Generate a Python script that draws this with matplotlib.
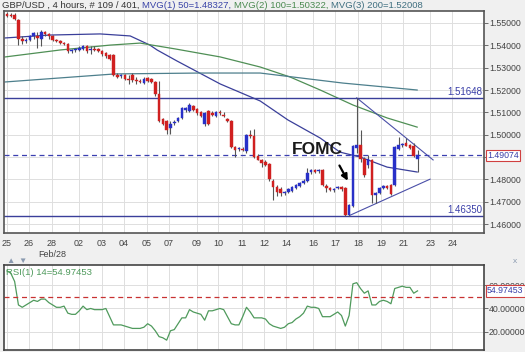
import matplotlib
matplotlib.use("Agg")
import matplotlib.pyplot as plt
import matplotlib.transforms as mtransforms

# 4 hour candles GBP/USD
opens = [1.5540, 1.5535, 1.5535, 1.5515, 1.5430, 1.5420, 1.5425, 1.5440, 1.5440, 1.5430,
         1.5460, 1.5450, 1.5440, 1.5425, 1.5420, 1.5410, 1.5405, 1.5375, 1.5378, 1.5380,
         1.5385, 1.5395, 1.5380, 1.5385, 1.5385, 1.5375, 1.5365, 1.5355, 1.5357, 1.5267,
         1.5262, 1.5265, 1.5250, 1.5265, 1.5245, 1.5240, 1.5230, 1.5252, 1.5250, 1.5236,
         1.5180, 1.5070, 1.5060, 1.5030, 1.5052, 1.5060, 1.5075, 1.5110, 1.5108, 1.5130,
         1.5115, 1.5100, 1.5050, 1.5105, 1.5095, 1.5085, 1.5100, 1.5090, 1.5070, 1.5060,
         1.4945, 1.4935, 1.4935, 1.4925, 1.5000, 1.4995, 1.4905, 1.4885, 1.4880, 1.4868,
         1.4795, 1.4765, 1.4755, 1.4740, 1.4745, 1.4750, 1.4760, 1.4770, 1.4785, 1.4795,
         1.4835, 1.4840, 1.4838, 1.4840, 1.4770, 1.4760, 1.4752, 1.4760, 1.4768, 1.4760,
         1.4640, 1.4680, 1.4940, 1.4955, 1.4890, 1.4865, 1.4885, 1.4730, 1.4740, 1.4762,
         1.4770, 1.4775, 1.4775, 1.4935, 1.4955, 1.4962, 1.4955, 1.4950, 1.4890]
highs = [1.5550, 1.5545, 1.5545, 1.5520, 1.5440, 1.5435, 1.5445, 1.5460, 1.5460, 1.5470,
         1.5465, 1.5455, 1.5445, 1.5430, 1.5425, 1.5415, 1.5410, 1.5385, 1.5390, 1.5395,
         1.5400, 1.5400, 1.5395, 1.5395, 1.5390, 1.5380, 1.5370, 1.5360, 1.5360, 1.5275,
         1.5270, 1.5270, 1.5265, 1.5275, 1.5260, 1.5250, 1.5260, 1.5258, 1.5255, 1.5240,
         1.5240, 1.5075, 1.5065, 1.5060, 1.5065, 1.5080, 1.5125, 1.5125, 1.5140, 1.5135,
         1.5120, 1.5105, 1.5100, 1.5110, 1.5105, 1.5105, 1.5110, 1.5100, 1.5075, 1.5065,
         1.4950, 1.4945, 1.4945, 1.5005, 1.5021, 1.5025, 1.4912, 1.4890, 1.4885, 1.4875,
         1.4800, 1.4775, 1.4765, 1.4750, 1.4760, 1.4770, 1.4780, 1.4790, 1.4800, 1.4850,
         1.4845, 1.4845, 1.4848, 1.4845, 1.4780, 1.4765, 1.4760, 1.4770, 1.4772, 1.4765,
         1.4690, 1.4955, 1.5165, 1.5020, 1.4900, 1.4910, 1.4890, 1.4745, 1.4765, 1.4775,
         1.4775, 1.4780, 1.4950, 1.4990, 1.4965, 1.4985, 1.4960, 1.4965, 1.4930]
lows = [1.5525, 1.5525, 1.5515, 1.5400, 1.5405, 1.5410, 1.5420, 1.5430, 1.5390, 1.5395,
        1.5440, 1.5430, 1.5420, 1.5415, 1.5405, 1.5400, 1.5365, 1.5365, 1.5370, 1.5375,
        1.5380, 1.5365, 1.5360, 1.5375, 1.5370, 1.5350, 1.5345, 1.5335, 1.5262, 1.5255,
        1.5255, 1.5245, 1.5225, 1.5235, 1.5225, 1.5230, 1.5225, 1.5238, 1.5232, 1.5175,
        1.5058, 1.5045, 1.5005, 1.5005, 1.5045, 1.5055, 1.5070, 1.5100, 1.5100, 1.5105,
        1.5090, 1.5080, 1.5040, 1.5045, 1.5085, 1.5080, 1.5090, 1.5080, 1.5055, 1.4940,
        1.4900, 1.4925, 1.4928, 1.4920, 1.4985, 1.4895, 1.4885, 1.4855, 1.4860, 1.4795,
        1.4710, 1.4725, 1.4725, 1.4730, 1.4740, 1.4745, 1.4755, 1.4765, 1.4780, 1.4790,
        1.4825, 1.4830, 1.4830, 1.4770, 1.4745, 1.4748, 1.4745, 1.4755, 1.4750, 1.4635,
        1.4635, 1.4675, 1.4920, 1.4880, 1.4810, 1.4850, 1.4695, 1.4695, 1.4735, 1.4755,
        1.4755, 1.4730, 1.4770, 1.4930, 1.4945, 1.4950, 1.4935, 1.4900, 1.4833]
closes = [1.5530, 1.5530, 1.5520, 1.5430, 1.5420, 1.5425, 1.5440, 1.5455, 1.5435, 1.5460,
          1.5450, 1.5440, 1.5425, 1.5420, 1.5410, 1.5405, 1.5375, 1.5380, 1.5383, 1.5390,
          1.5395, 1.5375, 1.5385, 1.5380, 1.5375, 1.5360, 1.5350, 1.5340, 1.5267, 1.5260,
          1.5265, 1.5250, 1.5245, 1.5245, 1.5240, 1.5235, 1.5250, 1.5242, 1.5238, 1.5180,
          1.5062, 1.5050, 1.5022, 1.5050, 1.5058, 1.5075, 1.5120, 1.5118, 1.5135, 1.5112,
          1.5095, 1.5085, 1.5095, 1.5050, 1.5090, 1.5100, 1.5095, 1.5085, 1.5060, 1.4945,
          1.4930, 1.4940, 1.4932, 1.5000, 1.4995, 1.4900, 1.4888, 1.4875, 1.4865, 1.4800,
          1.4765, 1.4745, 1.4740, 1.4745, 1.4755, 1.4765, 1.4775, 1.4785, 1.4795, 1.4830,
          1.4840, 1.4835, 1.4840, 1.4775, 1.4760, 1.4752, 1.4755, 1.4765, 1.4755, 1.4640,
          1.4685, 1.4950, 1.4955, 1.4890, 1.4820, 1.4890, 1.4730, 1.4740, 1.4760, 1.4770,
          1.4760, 1.4735, 1.4945, 1.4955, 1.4960, 1.4950, 1.4940, 1.4905, 1.4907]

# RSI(14) per candle
rsi = [72, 70, 63, 43, 41, 43, 45, 47, 46, 48, 48, 45, 43, 41, 41, 42, 36, 35, 35, 38,
       42, 39, 40, 39, 39, 39, 40, 33, 26, 26, 26, 25, 24, 23, 23, 23, 24, 27, 25, 21,
       16, 15, 13, 21, 22, 27, 32, 32, 39, 37, 36, 35, 30, 38, 38, 39, 40, 39, 33, 27,
       26, 26, 33, 41, 37, 32, 32, 32, 31, 27, 25, 24, 23, 24, 27, 28, 31, 33, 36, 42,
       41, 41, 40, 33, 33, 33, 35, 37, 34, 25, 34, 61, 62, 57, 53, 55, 43, 43, 46, 47,
       46, 44, 57, 58, 59, 58, 58, 53, 55]

# moving averages (candle index, price)
ma50_x = [-0.5, 11.3, 24.5, 32.4, 37.6, 39.5, 44.7, 56.1, 66.6, 73.9, 82.4, 87.6, 92.9, 100, 107.9]
ma50_y = [1.5433, 1.5446, 1.5451, 1.5442, 1.5401, 1.5379, 1.5330, 1.5227, 1.5151, 1.5066,
          1.4985, 1.4922, 1.4900, 1.4855, 1.4833]
ma100_x = [-0.5, 13.9, 27.1, 35, 44.2, 56.1, 66.6, 74.5, 82.4, 91, 100, 107.9]
ma100_y = [1.5348, 1.5379, 1.5401, 1.5410, 1.5384, 1.5348, 1.5303, 1.5258, 1.5200, 1.5133,
           1.5075, 1.5034]
ma200_x = [-0.5, 13.9, 28.4, 50.8, 66.6, 75.3, 88.4, 107.9]
ma200_y = [1.5236, 1.5254, 1.5272, 1.5276, 1.5276, 1.5258, 1.5231, 1.5200]

# trend lines (triangle)
upper_x = [92, 112.1]
upper_y = [1.5165, 1.4887]
lower_x = [90.3, 111.3]
lower_y = [1.4640, 1.4801]

hi_level = 1.51648
lo_level = 1.46350
last_price = 1.49074
last_rsi = 54.97453

# day separators
day_pos = [0, 5.8, 11.8, 18.9, 25, 30.8, 36.8, 42.6, 50, 55.5, 61.8, 67.6, 73.4, 80.5,
           86.3, 92.4, 98.4, 104.2, 111.3, 117.1]
day_labels = ["25", "26", "28", "02", "03", "04", "05", "07", "09", "10", "11", "12",
              "14", "16", "17", "18", "19", "21", "23", "24"]
price_ticks = [1.46, 1.47, 1.48, 1.49, 1.50, 1.51, 1.52, 1.53, 1.54, 1.55]

plt.rcParams['font.family'] = ['Liberation Sans', 'DejaVu Sans']

fig = plt.figure(figsize=(5.25, 3.52), dpi=100, facecolor="#f0f0f0")
ax = fig.add_axes([0.0076, 0.338, 0.9144, 0.631])
ax2 = fig.add_axes([0.0076, 0.006, 0.9144, 0.241])

blue = "#2830c8"
red = "#d02020"
grid_c = "#dedede"
lab_c = "#444444"
xmin, xmax = -0.8, 125.5

# candles
for i in range(len(closes)):
    o, h, l, c = opens[i], highs[i], lows[i], closes[i]
    col = blue if c >= o else red
    ax.vlines(i, l, h, color="#555555", lw=0.8, zorder=3)
    ax.bar(i, max(abs(c - o), 0.0002), bottom=min(o, c), width=0.7,
           color=col, edgecolor=col, lw=0.3, zorder=4)

ax.plot(ma50_x, ma50_y, color="#3a3f9a", lw=0.9, zorder=2)
ax.plot(ma100_x, ma100_y, color="#4f8f55", lw=0.9, zorder=2)
ax.plot(ma200_x, ma200_y, color="#4d7f8c", lw=0.9, zorder=2)
ax.plot(upper_x, upper_y, color="#4a4fa8", lw=0.8, zorder=2)
ax.plot(lower_x, lower_y, color="#4a4fa8", lw=0.8, zorder=2)

ax.axhline(hi_level, color="#3a3f9a", lw=1.0, zorder=2)
ax.axhline(lo_level, color="#3a3f9a", lw=1.0, zorder=2)
ax.axhline(last_price, color="#3a3fb0", lw=0.9, ls=(0, (4, 3)), zorder=2)

tr = mtransforms.blended_transform_factory(ax.transAxes, ax.transData)
ax.text(0.997, hi_level + 0.0004, "%.5f" % hi_level, transform=tr, ha="right", va="bottom",
        color="#3a3fa8", fontsize=7)
ax.text(0.997, lo_level + 0.0004, "%.5f" % lo_level, transform=tr, ha="right", va="bottom",
        color="#3a3fa8", fontsize=7)
ax.text(1.006, last_price, "%.5f" % last_price, transform=tr, ha="left", va="center",
        color="#3a3fa8", fontsize=6.3, clip_on=False, zorder=10,
        bbox=dict(boxstyle="square,pad=0.15", fc="white", ec="#d04040", lw=0.8))

ax.text(75.0, 1.4915, "FOMC", fontsize=12.5, fontweight="bold", color="#1a1a1a", zorder=6)
ax.annotate("", xy=(90.0, 1.4783), xytext=(87.1, 1.4873),
            arrowprops=dict(arrowstyle="-|>", color="black", lw=1.6, mutation_scale=9), zorder=6)

ax.set_xlim(xmin, xmax)
ax.set_ylim(1.4560, 1.5554)
ax.set_yticks(price_ticks)
ax.set_yticklabels(["" if v == 1.49 else "%.5f" % v for v in price_ticks])
ax.set_xticks(day_pos)
ax.set_xticklabels(day_labels)
ax.yaxis.tick_right()
ax.tick_params(axis="y", direction="out", length=3, width=0.6, color="#555555",
               labelsize=6.3, labelcolor=lab_c, pad=0.5)
ax.tick_params(axis="x", length=0, labelsize=6.5, labelcolor=lab_c, pad=4)
ax.grid(True, color=grid_c, lw=0.7, zorder=0)
for s in ax.spines.values():
    s.set_color("#555555")
    s.set_linewidth(1.2)
ax.text(day_pos[2], -0.075, "Feb/28",
        transform=mtransforms.blended_transform_factory(ax.transData, ax.transAxes),
        ha="center", va="top", fontsize=6.5, color=lab_c)

# title line built from coloured pieces
pieces = [("GBP/USD , 4 hours, # 109 / 401, ", "#333333"), ("MVG(1) 50=1.48327, ", "#3a44a8"),
          ("MVG(2) 100=1.50322, ", "#4a8a50"), ("MVG(3) 200=1.52008", "#3f6f80")]
r = fig.canvas.get_renderer()
x0 = 0.004
for txt, col in pieces:
    tt = fig.text(x0, 0.985, txt, fontsize=6.8, color=col, va="center", ha="left")
    x0 = fig.transFigure.inverted().transform((tt.get_window_extent(r).x1, 0))[0]

# RSI panel
ax2.plot(range(len(rsi)), rsi, color="#4f9a5c", lw=0.9)
ax2.axhline(50, color="#c83232", lw=0.9, ls=(0, (4, 3)))
ax2.set_xlim(xmin, xmax)
ax2.set_ylim(4.7, 77)
ax2.set_yticks([20, 40, 60])
ax2.set_yticklabels(["20.00000", "40.00000", "60.00000"])
ax2.set_xticks(day_pos)
ax2.set_xticklabels([])
ax2.yaxis.tick_right()
ax2.tick_params(axis="y", direction="out", length=3, width=0.6, color="#555555",
                labelsize=6.3, labelcolor=lab_c, pad=0.5)
ax2.tick_params(axis="x", length=0)
ax2.grid(True, color=grid_c, lw=0.7, zorder=0)
for s in ax2.spines.values():
    s.set_color("#444444")
    s.set_linewidth(1.2)
tr2 = mtransforms.blended_transform_factory(ax2.transAxes, ax2.transData)
ax2.text(1.006, last_rsi, "%.5f" % last_rsi, transform=tr2, ha="left", va="center",
         color="#3a3fa8", fontsize=6.3, clip_on=False, zorder=10,
         bbox=dict(boxstyle="square,pad=0.15", fc="white", ec="#d04040", lw=0.8))
ax2.text(0.004, 0.97, "RSI(1) 14=%.5f" % last_rsi, transform=ax2.transAxes, ha="left", va="top",
         color="#4f9a5c", fontsize=6.8)
fig.text(0.019, 0.256, "\u25b2", fontsize=6, color="#8a9ab0", ha="center", va="center")
fig.text(0.042, 0.256, "\u25bc", fontsize=6, color="#8a9ab0", ha="center", va="center")
fig.text(0.981, 0.256, "x", fontsize=6, color="#8a9ab0", ha="center", va="center")

fig.savefig("out.png", dpi=100, facecolor=fig.get_facecolor())
